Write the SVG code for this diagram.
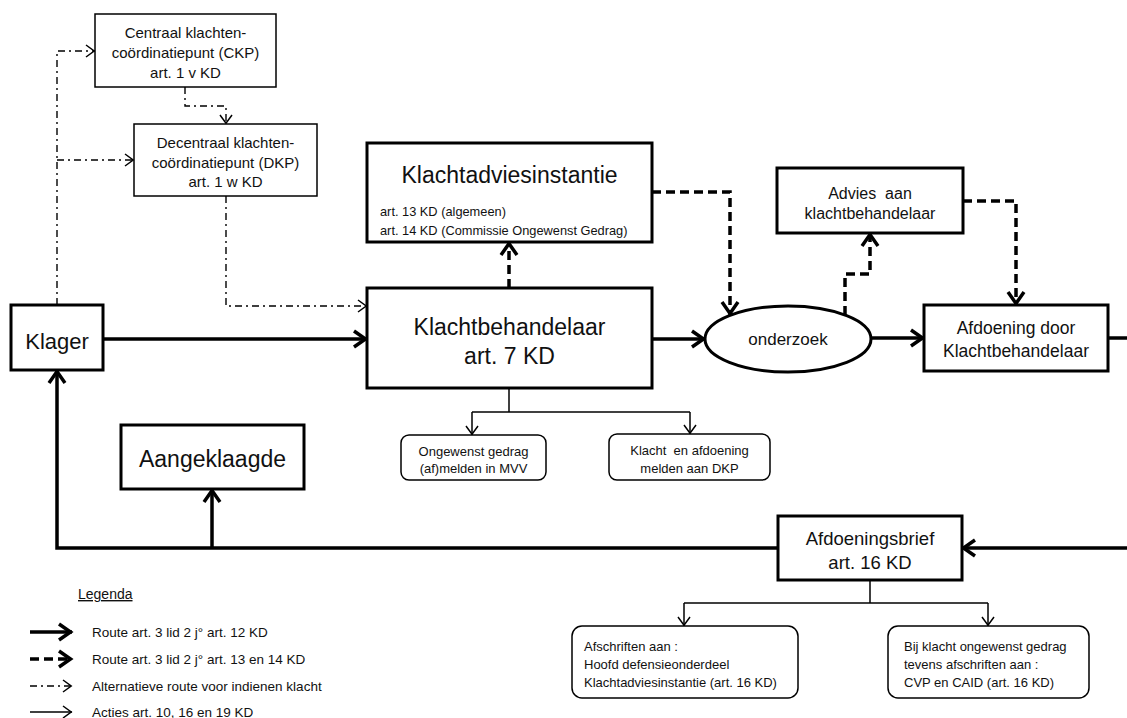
<svg xmlns="http://www.w3.org/2000/svg" width="1127" height="718" viewBox="0 0 1127 718">
<defs>
<style>
text{font-family:"Liberation Sans",Arial,sans-serif;fill:#111}
.c{text-anchor:middle}
.box{fill:#fff;stroke:#000;stroke-width:3}
.tbox{fill:#fff;stroke:#000;stroke-width:1.5}
.rbox{fill:#fff;stroke:#000;stroke-width:1.5}
.thick{fill:none;stroke:#000;stroke-width:3.5}
.dash{fill:none;stroke:#000;stroke-width:3.5;stroke-dasharray:9 5}
.dd{fill:none;stroke:#000;stroke-width:1.4;stroke-dasharray:7 4 2 4}
.thin{fill:none;stroke:#000;stroke-width:1.5}
</style>
<marker id="aT" viewBox="-16 -11 18 22" markerWidth="18" markerHeight="22" refX="0" refY="0" orient="auto" markerUnits="userSpaceOnUse">
<path d="M-13,-8 L-1.5,0 L-13,8" fill="none" stroke="#000" stroke-width="3.5"/>
</marker>
<marker id="aS" viewBox="-12 -8 14 16" markerWidth="14" markerHeight="16" refX="0" refY="0" orient="auto" markerUnits="userSpaceOnUse">
<path d="M-9,-6 L-0.8,0 L-9,6" fill="none" stroke="#000" stroke-width="1.5"/>
</marker>
</defs>
<rect width="1127" height="718" fill="#fff"/>

<g id="connectors">
<path class="thick" d="M103,339 L367,339" marker-end="url(#aT)"/>
<path class="thick" d="M652,339 L705,339" marker-end="url(#aT)"/>
<path class="thick" d="M872,338 L924,338" marker-end="url(#aT)"/>
<path class="thick" d="M1108,338 L1127,338"/>
<path class="thick" d="M1127,548 L962,548" marker-end="url(#aT)"/>
<path class="thick" d="M778,548 L57,548 L57,370" marker-end="url(#aT)"/>
<path class="thick" d="M212,548 L212,489" marker-end="url(#aT)"/>
<path class="dash" d="M509,288 L509,242" marker-end="url(#aT)"/>
<path class="dash" d="M652,192 L730,192 L730,315" marker-end="url(#aT)"/>
<path class="dash" d="M845,315 L845,274 L870,274 L870,233" marker-end="url(#aT)"/>
<path class="dash" d="M963,201 L1016,201 L1016,305" marker-end="url(#aT)"/>
<path class="dd" d="M57,305 L57,51 L95,51" marker-end="url(#aS)"/>
<path class="dd" d="M57,160 L134,160" marker-end="url(#aS)"/>
<path class="dd" d="M185,87 L185,106 L226,106 L226,124" marker-end="url(#aS)"/>
<path class="dd" d="M226,196 L226,306 L367,306" marker-end="url(#aS)"/>
<path class="thin" d="M509,388 L509,412"/>
<path class="thin" d="M472,412 L690,412"/>
<path class="thin" d="M472,412 L472,435" marker-end="url(#aS)"/>
<path class="thin" d="M690,412 L690,434" marker-end="url(#aS)"/>
<path class="thin" d="M870,580 L870,603"/>
<path class="thin" d="M684,603 L988,603"/>
<path class="thin" d="M684,603 L684,626" marker-end="url(#aS)"/>
<path class="thin" d="M988,603 L988,626" marker-end="url(#aS)"/>
</g>

<g id="ckp">
<rect class="tbox" x="95" y="14" width="181" height="73"/>
<text class="c" x="185.5" y="38" font-size="15">Centraal klachten-</text>
<text class="c" x="185.5" y="58" font-size="15">coördinatiepunt (CKP)</text>
<text class="c" x="185.5" y="78" font-size="15">art. 1 v KD</text>
</g>

<g id="dkp">
<rect class="tbox" x="134" y="124" width="183" height="72"/>
<text class="c" x="225.5" y="148" font-size="15">Decentraal klachten-</text>
<text class="c" x="225.5" y="168" font-size="15">coördinatiepunt (DKP)</text>
<text class="c" x="225.5" y="187" font-size="15">art. 1 w KD</text>
</g>

<g id="klager">
<rect class="box" x="11" y="305" width="92" height="65"/>
<text class="c" x="57" y="349" font-size="22">Klager</text>
</g>

<g id="klachtadviesinstantie">
<rect class="box" x="367" y="143" width="285" height="99"/>
<text class="c" x="509.5" y="183" font-size="23">Klachtadviesinstantie</text>
<text x="380" y="215.5" font-size="12.8">art. 13 KD (algemeen)</text>
<text x="380" y="234.5" font-size="12.8">art. 14 KD (Commissie Ongewenst Gedrag)</text>
</g>

<g id="klachtbehandelaar">
<rect class="box" x="367" y="288" width="285" height="100"/>
<text class="c" x="509.5" y="335" font-size="23">Klachtbehandelaar</text>
<text class="c" x="509.5" y="364" font-size="23">art. 7 KD</text>
</g>

<g id="onderzoek">
<ellipse cx="788" cy="339" rx="83" ry="33" fill="#fff" stroke="#000" stroke-width="3"/>
<text class="c" x="788" y="345" font-size="17">onderzoek</text>
</g>

<g id="advies">
<rect class="box" x="777" y="168" width="186" height="65"/>
<text class="c" x="870" y="198.5" font-size="16" xml:space="preserve">Advies  aan</text>
<text class="c" x="870" y="218.5" font-size="16">klachtbehandelaar</text>
</g>

<g id="afdoening">
<rect class="box" x="924" y="305" width="184" height="66"/>
<text class="c" x="1016" y="334" font-size="17.5">Afdoening door</text>
<text class="c" x="1016" y="357" font-size="17.5">Klachtbehandelaar</text>
</g>

<g id="aangeklaagde">
<rect class="box" x="121" y="425" width="183" height="64"/>
<text class="c" x="212.5" y="467" font-size="23">Aangeklaagde</text>
</g>

<g id="ongewenst">
<rect class="rbox" x="401" y="435" width="145" height="45" rx="8"/>
<text class="c" x="473.5" y="455.5" font-size="13">Ongewenst gedrag</text>
<text class="c" x="473.5" y="472.5" font-size="13">(af)melden in MVV</text>
</g>

<g id="melden-dkp">
<rect class="rbox" x="609" y="434" width="161" height="46" rx="8"/>
<text class="c" x="689.5" y="454.5" font-size="13" xml:space="preserve">Klacht  en afdoening</text>
<text class="c" x="689.5" y="472.5" font-size="13">melden aan DKP</text>
</g>

<g id="afdoeningsbrief">
<rect class="box" x="778" y="516" width="184" height="64"/>
<text class="c" x="870" y="544.5" font-size="18.5">Afdoeningsbrief</text>
<text class="c" x="870" y="568.5" font-size="18.5">art. 16 KD</text>
</g>

<g id="afschriften">
<rect class="rbox" x="572" y="626" width="226" height="72" rx="10"/>
<text x="584" y="650.5" font-size="13">Afschriften aan :</text>
<text x="584" y="668.5" font-size="13">Hoofd defensieonderdeel</text>
<text x="584" y="686.5" font-size="13">Klachtadviesinstantie (art. 16 KD)</text>
</g>

<g id="afschriften-cvp">
<rect class="rbox" x="888" y="626" width="201" height="72" rx="10"/>
<text x="904" y="650.5" font-size="13">Bij klacht ongewenst gedrag</text>
<text x="904" y="668.5" font-size="13">tevens afschriften aan :</text>
<text x="904" y="686.5" font-size="13">CVP en CAID (art. 16 KD)</text>
</g>

<g id="legenda">
<text x="78" y="599" font-size="14" text-decoration="underline">Legenda</text>
<path class="thick" d="M30,632 L72,632" marker-end="url(#aT)"/>
<path class="dash" d="M30,659 L72,659" marker-end="url(#aT)"/>
<path class="dd" d="M30,686 L72,686" marker-end="url(#aS)"/>
<path class="thin" d="M30,712 L72,712" marker-end="url(#aS)"/>
<text x="92" y="636.5" font-size="13.5">Route art. 3 lid 2 j° art. 12 KD</text>
<text x="92" y="663.5" font-size="13.5">Route art. 3 lid 2 j° art. 13 en 14 KD</text>
<text x="92" y="690.5" font-size="13.5">Alternatieve route voor indienen klacht</text>
<text x="92" y="716.5" font-size="13.5">Acties art. 10, 16 en 19 KD</text>
</g>
</svg>
